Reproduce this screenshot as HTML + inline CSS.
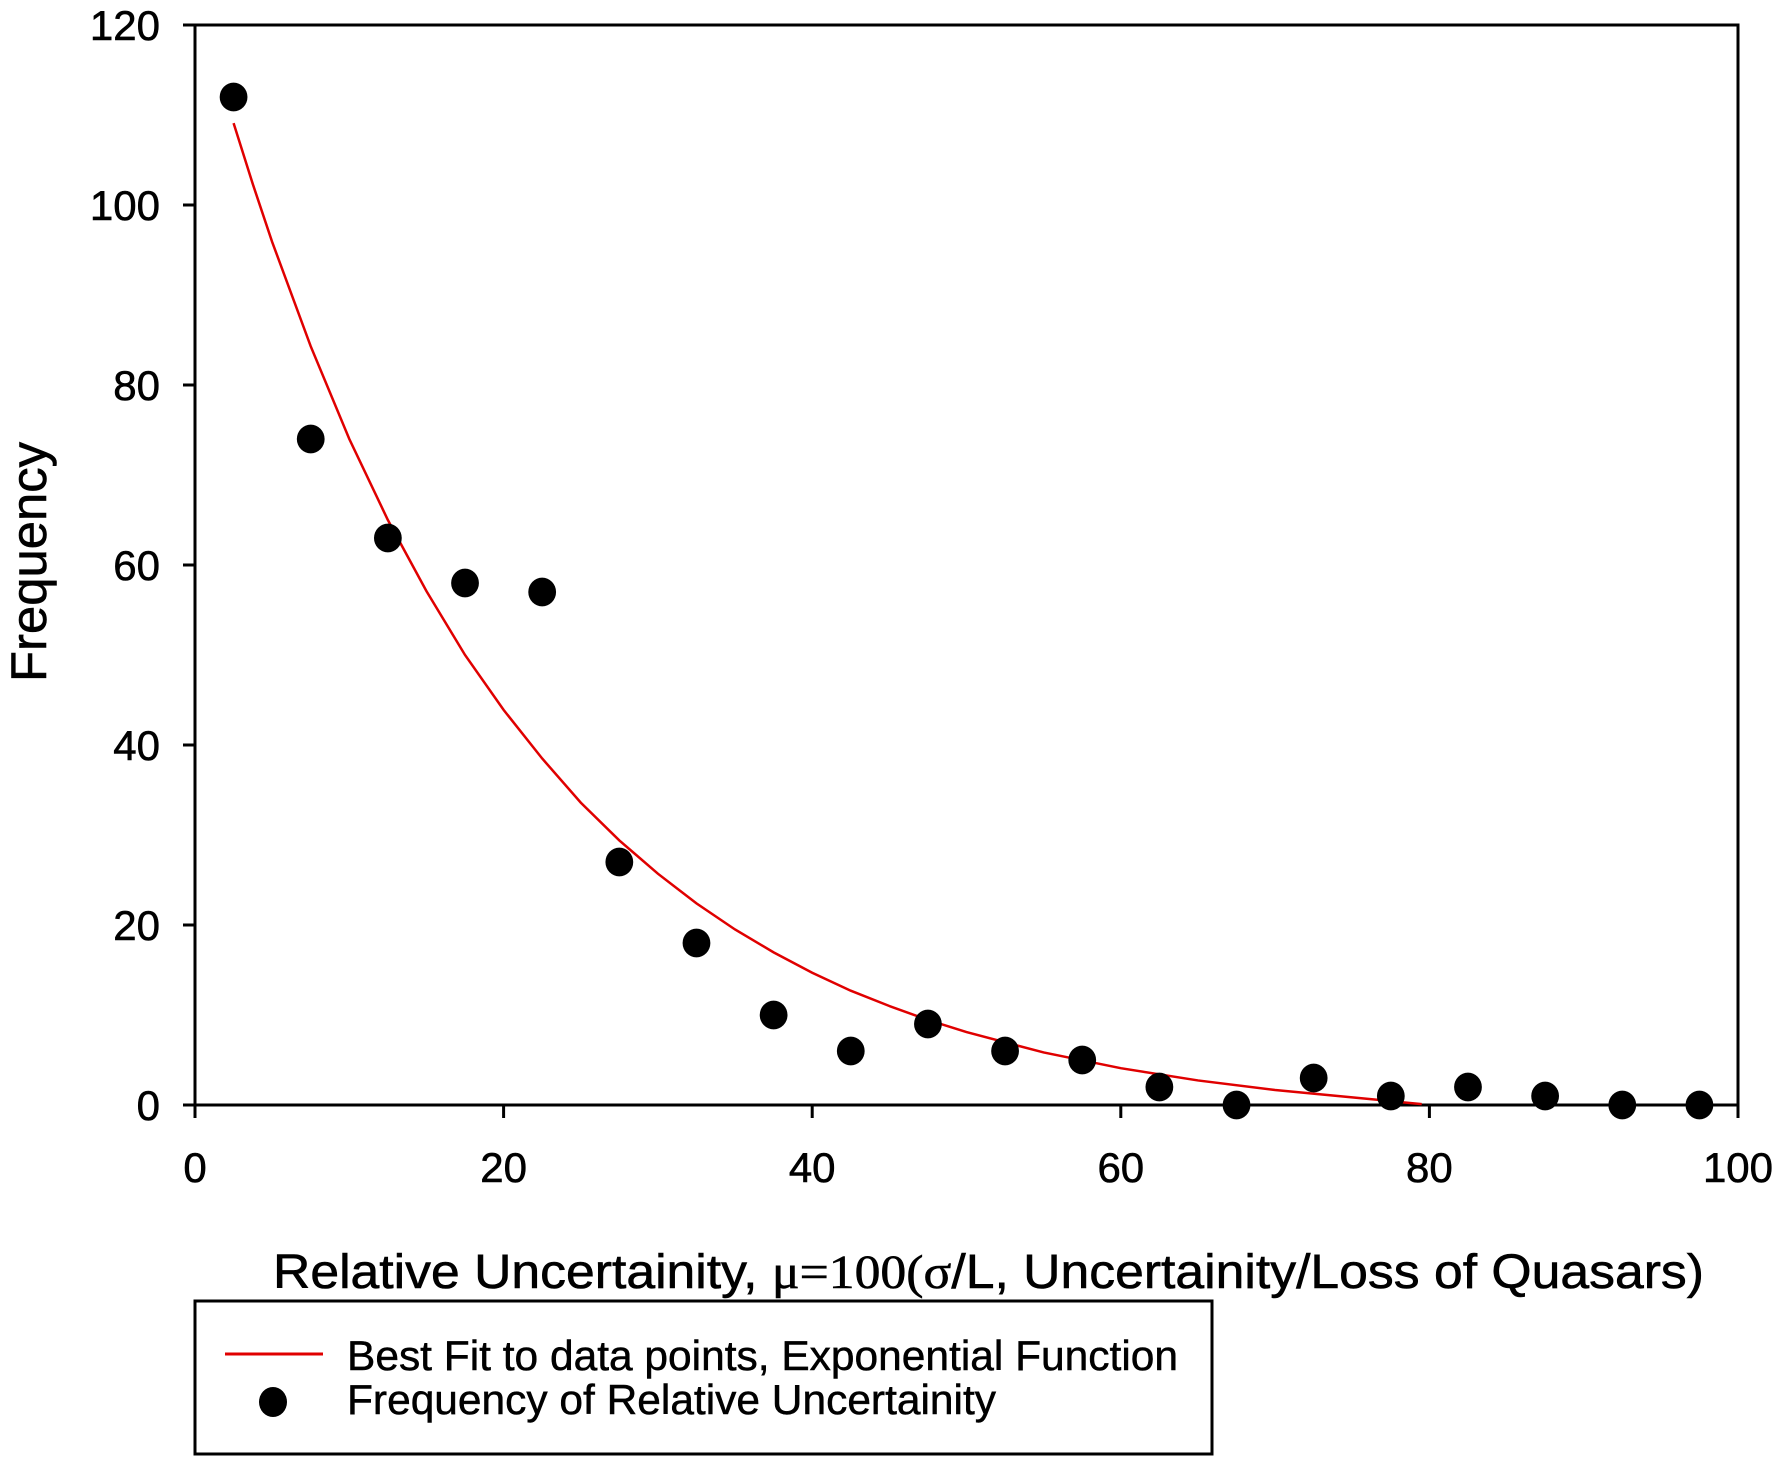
<!DOCTYPE html>
<html><head><meta charset="utf-8"><style>
html,body{margin:0;padding:0;background:#fff;}
svg{display:block;font-family:"Liberation Sans",Arial,sans-serif;}
</style></head><body>
<svg width="1781" height="1468" viewBox="0 0 1781 1468" xmlns="http://www.w3.org/2000/svg">
<rect width="1781" height="1468" fill="#fff"/>
<rect x="195" y="25" width="1543" height="1080" fill="none" stroke="#000" stroke-width="3"/>
<g stroke="#000" stroke-width="3">
<line x1="183" y1="1105" x2="195" y2="1105"/>
<line x1="183" y1="925" x2="195" y2="925"/>
<line x1="183" y1="745" x2="195" y2="745"/>
<line x1="183" y1="565" x2="195" y2="565"/>
<line x1="183" y1="385" x2="195" y2="385"/>
<line x1="183" y1="205" x2="195" y2="205"/>
<line x1="183" y1="25" x2="195" y2="25"/>
<line x1="195" y1="1105" x2="195" y2="1118"/>
<line x1="503.6" y1="1105" x2="503.6" y2="1118"/>
<line x1="812.2" y1="1105" x2="812.2" y2="1118"/>
<line x1="1120.8" y1="1105" x2="1120.8" y2="1118"/>
<line x1="1429.4" y1="1105" x2="1429.4" y2="1118"/>
<line x1="1738" y1="1105" x2="1738" y2="1118"/>
</g>
<g font-size="42" fill="#000" stroke="#000" stroke-width="0.6" text-anchor="end">
<text x="160" y="1120">0</text>
<text x="160" y="940">20</text>
<text x="160" y="760">40</text>
<text x="160" y="580">60</text>
<text x="160" y="400">80</text>
<text x="160" y="220">100</text>
<text x="160" y="40">120</text>
</g>
<g font-size="42" fill="#000" stroke="#000" stroke-width="0.6" text-anchor="middle">
<text x="195" y="1182">0</text>
<text x="503.6" y="1182">20</text>
<text x="812.2" y="1182">40</text>
<text x="1120.8" y="1182">60</text>
<text x="1429.4" y="1182">80</text>
<text x="1738" y="1182">100</text>
</g>
<text transform="translate(46,562) rotate(-90)" font-size="50" stroke="#000" stroke-width="0.6" text-anchor="middle" textLength="240" lengthAdjust="spacingAndGlyphs">Frequency</text>
<text x="273" y="1288" font-size="48" stroke="#000" stroke-width="0.6" textLength="1431" lengthAdjust="spacingAndGlyphs">Relative Uncertainity, <tspan font-family="Liberation Serif,serif">μ=100(σ</tspan>/L, Uncertainity/Loss of Quasars)</text>
<g transform="translate(195,1105) scale(15.43,-9)">
<polyline fill="none" stroke="#e00000" stroke-width="2.5" vector-effect="non-scaling-stroke"
points="2.5,109.1 3.75,102.3 5,95.9 7.5,84.3 10,74 12.5,65 15,57.1 17.5,50 20,43.9 22.5,38.5 25,33.6 27.5,29.4 30,25.7 32.5,22.4 35,19.5 37.5,16.96 40,14.7 42.5,12.7 45,11 47.5,9.45 50,8.1 55,5.84 60,4.09 65,2.73 70,1.67 75,0.85 79.5,0.1"/>
<g fill="#000">
<ellipse cx="2.5" cy="112" rx="0.9" ry="1.6"/>
<ellipse cx="7.5" cy="74" rx="0.9" ry="1.6"/>
<ellipse cx="12.5" cy="63" rx="0.9" ry="1.6"/>
<ellipse cx="17.5" cy="58" rx="0.9" ry="1.6"/>
<ellipse cx="22.5" cy="57" rx="0.9" ry="1.6"/>
<ellipse cx="27.5" cy="27" rx="0.9" ry="1.6"/>
<ellipse cx="32.5" cy="18" rx="0.9" ry="1.6"/>
<ellipse cx="37.5" cy="10" rx="0.9" ry="1.6"/>
<ellipse cx="42.5" cy="6" rx="0.9" ry="1.6"/>
<ellipse cx="47.5" cy="9" rx="0.9" ry="1.6"/>
<ellipse cx="52.5" cy="6" rx="0.9" ry="1.6"/>
<ellipse cx="57.5" cy="5" rx="0.9" ry="1.6"/>
<ellipse cx="62.5" cy="2" rx="0.9" ry="1.6"/>
<ellipse cx="67.5" cy="0" rx="0.9" ry="1.6"/>
<ellipse cx="72.5" cy="3" rx="0.9" ry="1.6"/>
<ellipse cx="77.5" cy="1" rx="0.9" ry="1.6"/>
<ellipse cx="82.5" cy="2" rx="0.9" ry="1.6"/>
<ellipse cx="87.5" cy="1" rx="0.9" ry="1.6"/>
<ellipse cx="92.5" cy="0" rx="0.9" ry="1.6"/>
<ellipse cx="97.5" cy="0" rx="0.9" ry="1.6"/>
</g>
</g>
<rect x="195" y="1301" width="1017" height="153" fill="none" stroke="#000" stroke-width="3"/>
<line x1="225" y1="1354" x2="323" y2="1354" stroke="#e00000" stroke-width="3"/>
<ellipse cx="273" cy="1402" rx="14" ry="15" fill="#000"/>
<text x="347" y="1370" font-size="42" stroke="#000" stroke-width="0.5" textLength="831" lengthAdjust="spacingAndGlyphs">Best Fit to data points, Exponential Function</text>
<text x="347" y="1414" font-size="42" stroke="#000" stroke-width="0.5" textLength="649" lengthAdjust="spacingAndGlyphs">Frequency of Relative Uncertainity</text>
</svg>
</body></html>
